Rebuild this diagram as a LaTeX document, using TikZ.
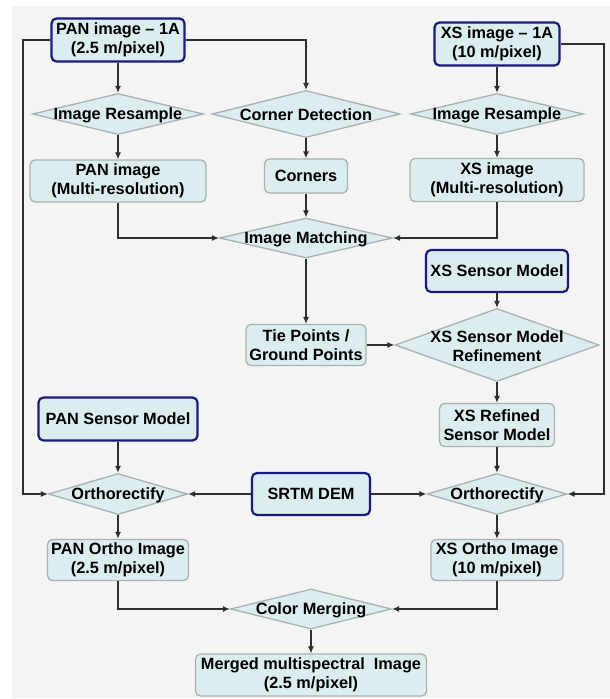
\documentclass[tikz,border=0pt]{standalone}
\usepackage{fontspec}
\setmainfont{Liberation Sans}
\usetikzlibrary{arrows.meta,shapes.geometric}
\definecolor{panel}{HTML}{F4F4F4}
\definecolor{cellfill}{HTML}{DCEDF0}
\definecolor{cellline}{HTML}{A8B0B2}
\definecolor{navy}{HTML}{1A1A7A}
\definecolor{wire}{HTML}{2E2E2E}

\begin{document}
\begin{tikzpicture}[
  x=1pt, y=-1pt,
  font=\bfseries\fontsize{16.3}{19.5}\selectfont,
  proc/.style={draw=cellline, line width=1.3pt, fill=cellfill, rounded corners=5pt, align=center, inner sep=0pt},
  src/.style={proc, draw=navy, line width=2.2pt},
  dec/.style={diamond, draw=cellline, line width=1.3pt, fill=cellfill, inner sep=0pt},
  dlabel/.style={align=center, inner sep=0pt, yshift=-1pt},
  arrow/.style={-{Latex[length=7pt,width=6pt]}, draw=wire, line width=1.2pt}
]
\useasboundingbox (0,0) rectangle (610,699);
\fill[panel] (12,6) rectangle (610,698);

% inputs
\node[src, minimum width=133pt, minimum height=43pt] (panIn) at (118,40) {PAN image -- 1A\\(2.5 m/pixel)};
\node[src, minimum width=125pt, minimum height=43pt] (xsIn) at (497,44) {XS image -- 1A\\(10 m/pixel)};

\node[dec, minimum width=171pt, minimum height=41pt, label={[dlabel]center:Image Resample}] (resL) at (118,114) {};
\node[dec, minimum width=188pt, minimum height=47pt, label={[dlabel]center:Corner Detection}] (corner) at (306,114) {};
\node[dec, minimum width=173pt, minimum height=41pt, label={[dlabel]center:Image Resample}] (resR) at (497,114) {};

\node[proc, minimum width=176pt, minimum height=42pt] (panMR) at (118,181) {PAN image\\(Multi-resolution)};
\node[proc, minimum width=83pt, minimum height=34pt] (corners) at (306,176) {Corners};
\node[proc, minimum width=174pt, minimum height=43pt] (xsMR) at (497,180) {XS image\\(Multi-resolution)};

\node[dec, minimum width=173pt, minimum height=40pt, label={[dlabel]center:Image Matching}] (match) at (306,238) {};

\node[src, minimum width=142pt, minimum height=42pt] (xsSM) at (497,271) {XS Sensor Model};
\node[proc, minimum width=120pt, minimum height=41pt] (tie) at (306,345) {Tie Points /\\Ground Points};
\node[dec, minimum width=204pt, minimum height=73pt, label={[dlabel]center:XS Sensor Model\\Refinement}] (refine) at (497,345) {};
\node[proc, minimum width=115pt, minimum height=43pt] (xsRef) at (497,425) {XS Refined\\Sensor Model};

\node[src, minimum width=159pt, minimum height=43pt] (panSM) at (118,419) {PAN Sensor Model};

\node[dec, minimum width=139pt, minimum height=41pt, label={[dlabel]center:Orthorectify}] (orthoL) at (118,494) {};
\node[src, minimum width=118pt, minimum height=42pt] (srtm) at (311,494) {SRTM DEM};
\node[dec, minimum width=140pt, minimum height=41pt, label={[dlabel]center:Orthorectify}] (orthoR) at (497,494) {};

\node[proc, minimum width=141pt, minimum height=41pt] (panOr) at (118,560) {PAN Ortho Image\\(2.5 m/pixel)};
\node[proc, minimum width=132pt, minimum height=41pt] (xsOr) at (497,560) {XS Ortho Image\\(10 m/pixel)};

\node[dec, minimum width=161pt, minimum height=40pt, label={[dlabel]center:Color Merging}] (merge) at (311,609) {};
\node[proc, minimum width=231pt, minimum height=42pt] (merged) at (311,675) {Merged multispectral\ \ Image\\(2.5 m/pixel)};

\coordinate (leftbus) at (23,40);
\coordinate (rightbus) at (604,44);

% connectors
\draw[arrow] (panIn) -- (resL);
\draw[arrow] (panIn.east) -| (corner.north);
\draw[arrow] (panIn.west) -- (leftbus) |- (orthoL.west);
\draw[arrow] (xsIn) -- (resR);
\draw[arrow] (xsIn.east) -- (rightbus) |- (orthoR.east);
\draw[arrow] (resL) -- (panMR);
\draw[arrow] (corner) -- (corners);
\draw[arrow] (resR) -- (xsMR);
\draw[arrow] (panMR.south) |- (match.west);
\draw[arrow] (xsMR.south) |- (match.east);
\draw[arrow] (corners) -- (match);
\draw[arrow] (match) -- (tie);
\draw[arrow] (xsSM) -- (refine);
\draw[arrow] (tie) -- (refine);
\draw[arrow] (refine) -- (xsRef);
\draw[arrow] (xsRef) -- (orthoR);
\draw[arrow] (panSM) -- (orthoL);
\draw[arrow] (srtm) -- (orthoL);
\draw[arrow] (srtm) -- (orthoR);
\draw[arrow] (orthoL) -- (panOr);
\draw[arrow] (orthoR) -- (xsOr);
\draw[arrow] (panOr.south) |- (merge.west);
\draw[arrow] (xsOr.south) |- (merge.east);
\draw[arrow] (merge) -- (merged);

\end{tikzpicture}
\end{document}
